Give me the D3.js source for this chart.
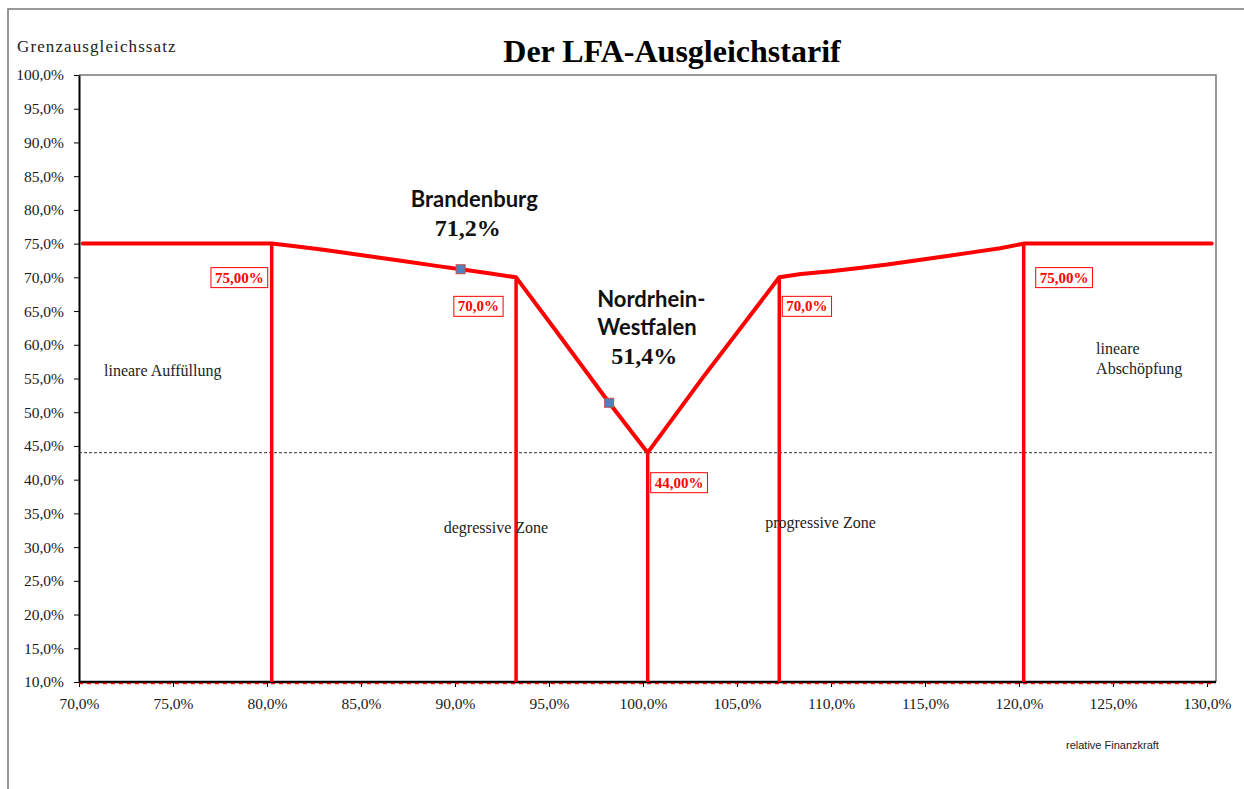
<!DOCTYPE html>
<html>
<head>
<meta charset="utf-8">
<script src="https://cdn.jsdelivr.net/npm/d3@7"></script>
<style>
  body { margin: 0; background: #fff; }
  svg text { font-family: "Liberation Serif", "Times New Roman", serif; }
</style>
</head>
<body>
<div id="chart"></div>
<script>
// axis ticks
const xTicks = [70, 75, 80, 85, 90, 95, 100, 105, 110, 115, 120, 125, 130];
const yTicks = [10, 15, 20, 25, 30, 35, 40, 45, 50, 55, 60, 65, 70, 75, 80, 85, 90, 95, 100];

// tariff curve (relative Finanzkraft -> Grenzausgleichssatz)
const tarifX = [70.2, 80.25, 81.5, 83, 84.5, 86, 87.5, 89, 90.3, 91.8, 93.25,
                95.2, 98.2, 100.25, 103.2, 107.25,
                108.4, 110, 111.5, 113, 114.5, 116, 117.5, 119, 120.25, 130.25];
const tarifY = [75, 75, 74.6, 74.1, 73.5, 72.9, 72.3, 71.7, 71.2, 70.6, 70,
                62.7, 51.4, 44, 55.2, 70,
                70.5, 70.9, 71.4, 71.9, 72.5, 73.1, 73.7, 74.3, 75, 75];

// zone borders
const zoneX = [80.25, 93.25, 100.25, 107.25, 120.25];
const zoneY = [75, 70, 44, 70, 75];
const zoneLabels = ["75,00%", "70,0%", "44,00%", "70,0%", "75,00%"];

// highlighted states
const stateNames = [["Brandenburg"], ["Nordrhein-", "Westfalen"]];
const stateX = [90.3, 98.2];
const stateY = [71.2, 51.4];
const stateValues = ["71,2%", "51,4%"];

const refLine = 44;
const baseLine = 10;

// zone descriptions
const zoneTexts = [
  {lines: ["lineare Auffüllung"], x: 71.33, y: 55.4},
  {lines: ["degressive Zone"], x: 89.4, y: 32.1},
  {lines: ["progressive Zone"], x: 106.5, y: 32.8},
  {lines: ["lineare", "Abschöpfung"], x: 124.1, y: 58.6}
];

const W = 1244, H = 789;
const margin = {top: 75, left: 79};
const plotRight = 1216;

const svg = d3.select("#chart").append("svg")
  .attr("width", W).attr("height", H);

// outer frame
svg.append("path")
  .attr("d", `M8,${H} V9 H${W}`)
  .attr("fill", "none").attr("stroke", "#777").attr("stroke-width", 1.5);

const x = d3.scaleLinear().domain([70, 130]).range([margin.left, 1207]);
const y = d3.scaleLinear().domain([10, 100]).range([682, margin.top]);

// plot border (top + right)
svg.append("path")
  .attr("d", `M${margin.left},${y(100)} H${plotRight} V${y(10)}`)
  .attr("fill", "none").attr("stroke", "#777").attr("stroke-width", 1.5);

// title
svg.append("text")
  .attr("x", 672).attr("y", 62)
  .attr("text-anchor", "middle")
  .style("font-size", "32px").style("font-weight", "bold")
  .text("Der LFA-Ausgleichstarif");

svg.append("text")
  .attr("x", 17).attr("y", 52)
  .style("font-size", "17px").style("letter-spacing", "1.1px")
  .attr("fill", "#222")
  .text("Grenzausgleichssatz");

svg.append("text")
  .attr("x", 1066).attr("y", 749)
  .style("font-family", "'Liberation Sans', Arial, sans-serif")
  .style("font-size", "11px").attr("fill", "#222")
  .text("relative Finanzkraft");

// axes
const fmt = d => d.toFixed(1).replace(".", ",") + "%";

const yAxis = svg.append("g")
  .attr("transform", `translate(${margin.left},0)`)
  .call(d3.axisLeft(y).tickValues(yTicks).tickFormat(fmt).tickSize(5).tickSizeOuter(0));
yAxis.select(".domain").attr("stroke", "#000").attr("stroke-width", 2);
yAxis.selectAll("text").style("font-size", "15.5px").attr("fill", "#1a1a1a")
  .style("font-family", "'Liberation Serif', serif").attr("x", -15);

const xAxis = svg.append("g")
  .attr("transform", `translate(0,${y(10)})`)
  .call(d3.axisBottom(x).tickValues(xTicks).tickFormat(fmt).tickSize(5).tickSizeOuter(0));
xAxis.select(".domain").attr("d", `M${margin.left},0H${plotRight}`)
  .attr("stroke", "#000").attr("stroke-width", 2.5);
xAxis.selectAll("text").style("font-size", "15.5px").attr("fill", "#1a1a1a")
  .style("font-family", "'Liberation Serif', serif").attr("y", 16);

// red dashed base line at 10%
svg.append("line")
  .attr("x1", x(70)).attr("x2", plotRight - 3)
  .attr("y1", y(baseLine) + 1.5).attr("y2", y(baseLine) + 1.5)
  .attr("stroke", "red").attr("stroke-width", 1.5)
  .attr("stroke-dasharray", "4,4");

// dotted reference line at 44%
svg.append("line")
  .attr("x1", x(70)).attr("x2", plotRight - 3)
  .attr("y1", y(refLine)).attr("y2", y(refLine))
  .attr("stroke", "#333").attr("stroke-width", 1)
  .attr("stroke-dasharray", "3,2");

// vertical zone borders
svg.append("g").selectAll("line")
  .data(zoneX)
  .join("line")
  .attr("x1", d => x(d)).attr("x2", d => x(d))
  .attr("y1", (d, i) => y(zoneY[i])).attr("y2", y(baseLine))
  .attr("stroke", "red").attr("stroke-width", 3.5);

// tariff curve
const curve = tarifX.map((d, i) => [d, tarifY[i]]);
svg.append("path")
  .datum(curve)
  .attr("fill", "none")
  .attr("stroke", "red")
  .attr("stroke-width", 4)
  .attr("stroke-linejoin", "round")
  .attr("stroke-linecap", "round")
  .attr("d", d3.line().x(d => x(d[0])).y(d => y(d[1])));

// zone value labels in boxes
const labelOffsets = [
  {side: "left", dx: -4, dy: 34},
  {side: "left", dx: -13, dy: 29},
  {side: "right", dx: 3, dy: 30},
  {side: "right", dx: 3, dy: 29},
  {side: "right", dx: 12, dy: 34}
];
const labelG = svg.append("g");
zoneX.forEach((zx, i) => {
  const off = labelOffsets[i];
  const g = labelG.append("g");
  const t = g.append("text")
    .attr("y", y(zoneY[i]) + off.dy + 5)
    .style("font-size", "15px").style("font-weight", "bold")
    .attr("fill", "red")
    .text(zoneLabels[i]);
  const w = t.node().getComputedTextLength();
  const boxW = w + 8;
  const left = off.side === "left" ? x(zx) + off.dx - boxW : x(zx) + off.dx;
  t.attr("x", left + 4);
  g.insert("rect", "text")
    .attr("x", left).attr("y", y(zoneY[i]) + off.dy - 10)
    .attr("width", boxW).attr("height", 20)
    .attr("fill", "#fff").attr("stroke", "red").attr("stroke-width", 1);
});

// state markers
svg.append("g").selectAll("rect")
  .data(stateX)
  .join("rect")
  .attr("x", d => x(d) - 4.5)
  .attr("y", (d, i) => y(stateY[i]) - 4.5)
  .attr("width", 9).attr("height", 9)
  .attr("fill", "#4f81bd")
  .attr("stroke", "#c0504d").attr("stroke-width", 1);

// state annotations
const stateLayout = [
  {dx: -50, dy: -62, vx: -26},
  {dx: -12, dy: -96, vx: 2}
];
stateNames.forEach((lines, i) => {
  const px = x(stateX[i]) + stateLayout[i].dx;
  const py = y(stateY[i]) + stateLayout[i].dy;
  lines.forEach((ln, j) => {
    svg.append("text")
      .attr("x", px).attr("y", py + j * 28)
      .style("font-family", "Lato, 'Open Sans', sans-serif")
      .style("font-size", "22px").style("font-weight", "bold")
      .attr("fill", "#111")
      .text(ln);
  });
  svg.append("text")
    .attr("x", x(stateX[i]) + stateLayout[i].vx)
    .attr("y", py + lines.length * 28.5)
    .style("font-family", "'Liberation Serif', 'Times New Roman', serif")
    .style("font-size", "24px").style("font-weight", "bold")
    .attr("fill", "#111")
    .text(stateValues[i]);
});

// zone descriptions
zoneTexts.forEach(z => {
  z.lines.forEach((ln, j) => {
    svg.append("text")
      .attr("x", x(z.x)).attr("y", y(z.y) + j * 20)
      .style("font-size", "16px").attr("fill", "#222")
      .text(ln);
  });
});
</script>
</body>
</html>
